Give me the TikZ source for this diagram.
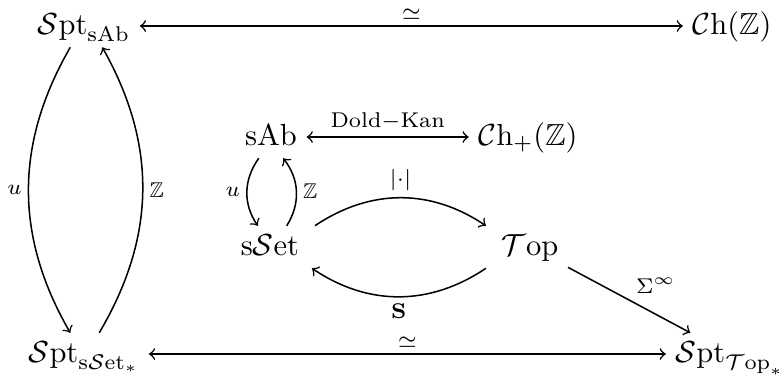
\documentclass[tikz,border=0pt]{standalone}
\usepackage{amsmath,amssymb}
\usepackage{tikz}
\usetikzlibrary{calc,positioning,arrows.meta}
\tikzset{
  map/.style={line width=0.5pt, >=to},
  obj/.style={inner sep=3pt, text height=1.5ex, text depth=.25ex},
  lab/.style={font=\scriptsize, inner sep=2pt}
}
\begin{document}
\begin{tikzpicture}[x=0.328pt,y=-0.328pt]
  \useasboundingbox (0,0) rectangle (784,377);
  \node[obj] (spab) at (84,26) {$\mathcal{S}\mathrm{pt}_{\mathrm{sAb}}$};
  \node[obj] (chz) at (732,26) {$\mathcal{C}\mathrm{h}(\mathbb{Z})$};
  \node[obj] (sab) at (271,137) {$\mathrm{sAb}$};
  \node[obj] (chp) at (528,137) {$\mathcal{C}\mathrm{h}_{+}(\mathbb{Z})$};
  \node[obj] (sset) at (270,247) {$\mathrm{s}\mathcal{S}\mathrm{et}$};
  \node[obj] (topn) at (530,247) {$\mathcal{T}\mathrm{op}$};
  \node[obj] (spss) at (84,354) {$\mathcal{S}\mathrm{pt}_{\mathrm{s}\mathcal{S}\mathrm{et}_*}$};
  \node[obj] (sptop) at (730,354) {$\mathcal{S}\mathrm{pt}_{\mathcal{T}\mathrm{op}_*}$};
  % equivalences
  \draw[map,<->] (spab) -- node[lab,above] {$\simeq$} (chz);
  \draw[map,<->] (sab) -- node[lab,above] {Dold$-$Kan} (chp);
  \draw[map,<->] (spss) -- node[lab,above] {$\simeq$} (sptop);
  % adjunctions
  \draw[map,->] ([xshift=-4.5pt]spab.south) to[bend right=30] node[lab,left] {$u$} ([xshift=-4.5pt]spss.north);
  \draw[map,->] ([xshift=5pt]spss.north) to[bend right=30] node[lab,right] {$\mathbb{Z}$} ([xshift=6pt]spab.south);
  \draw[map,->] ([xshift=-4pt]sab.south) to[bend right=35] node[lab,left] {$u$} ([xshift=-4pt]sset.north);
  \draw[map,->] ([xshift=5.5pt]sset.north) to[bend right=35] node[lab,right] {$\mathbb{Z}$} ([xshift=4pt]sab.south);
  \draw[map,->] ([xshift=2pt]sset.north east) to[bend left=34] node[lab,above] {$\lvert\cdot\rvert$} ([xshift=-2pt]topn.north west);
  \draw[map,->] ([xshift=-2pt]topn.south west) to[bend left=34] node[lab,below] {$\mathbf{S}$} ([xshift=1pt]sset.south east);
  \draw[map,->] (topn) -- node[lab,above right] {$\Sigma^{\infty}$} (sptop);
\end{tikzpicture}
\end{document}
